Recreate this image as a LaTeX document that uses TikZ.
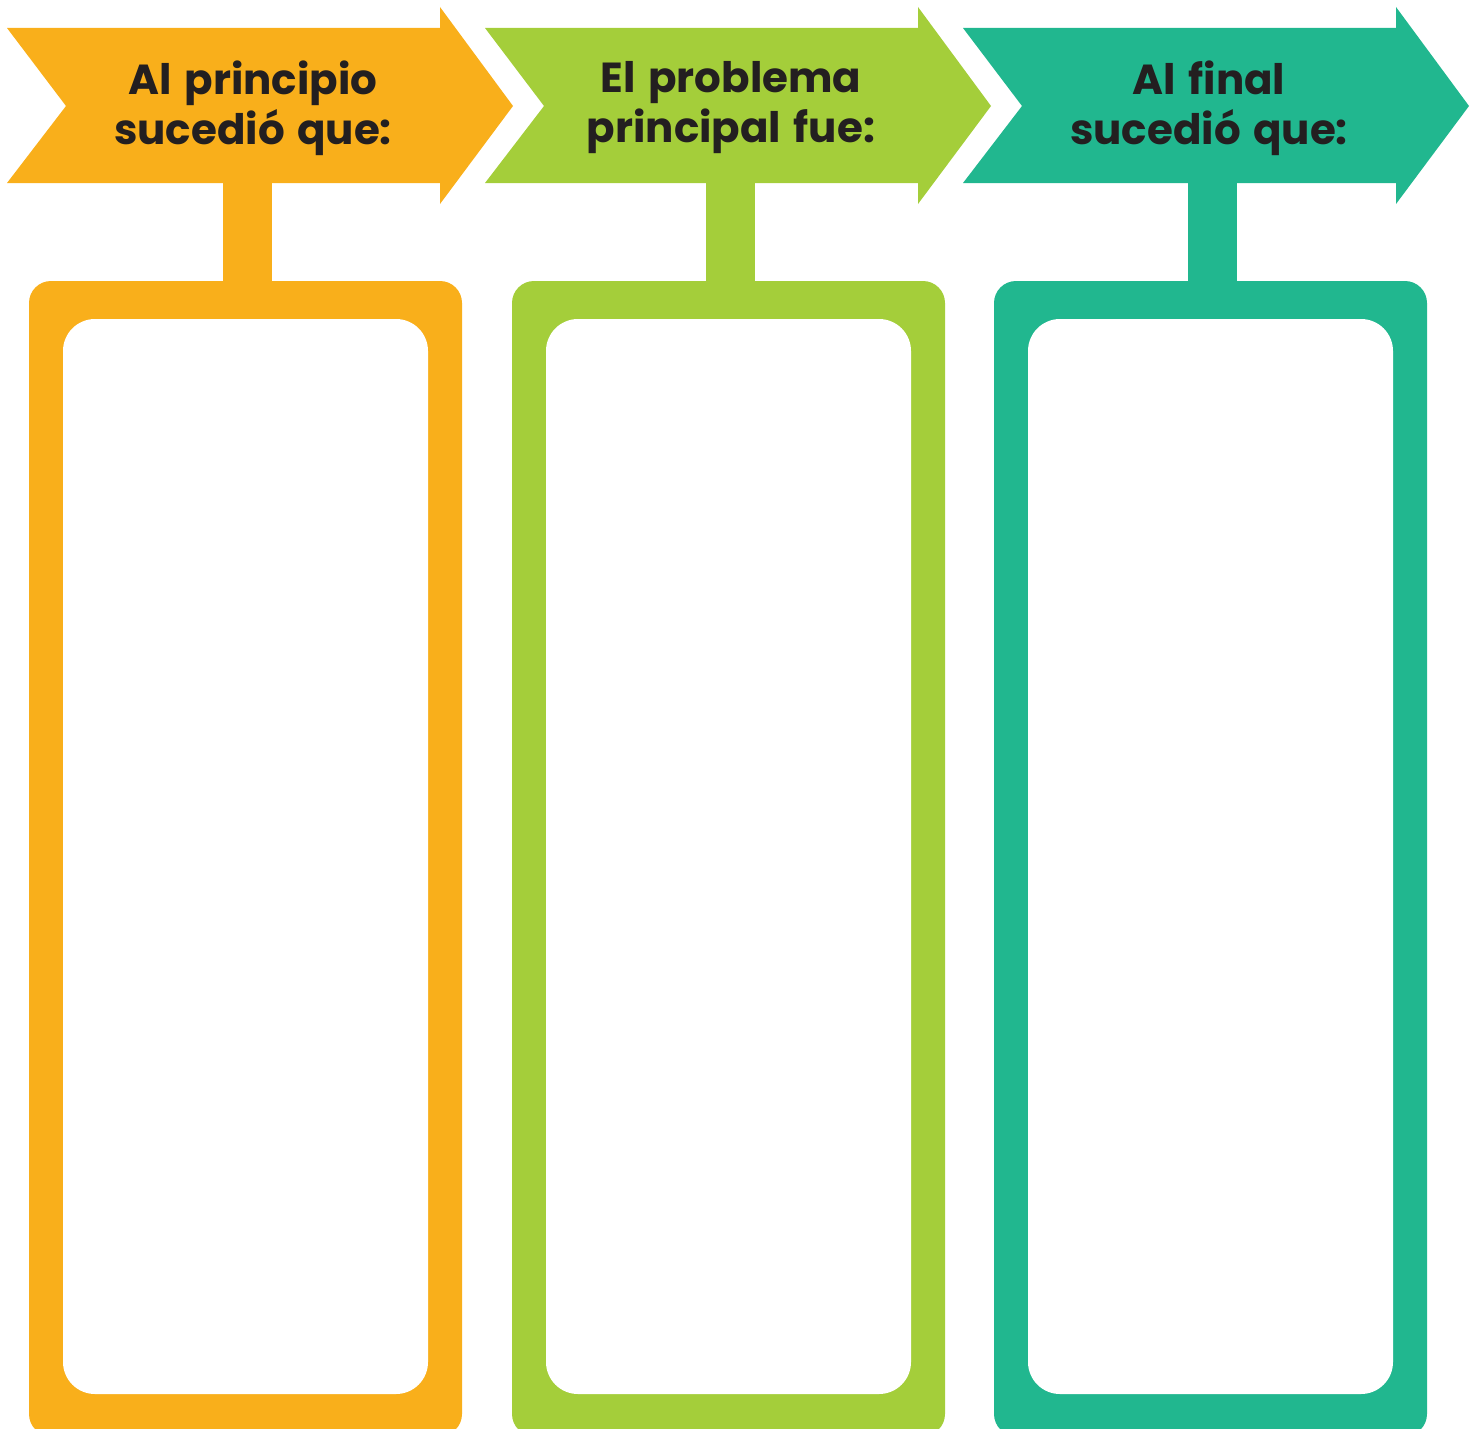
\documentclass[tikz,border=0pt]{standalone}
\usepackage{fontspec}
\setmainfont{Poppins}[WordSpace=1.4]
\definecolor{cOrange}{HTML}{F9AF1B}
\definecolor{cGreen}{HTML}{A4CE3A}
\definecolor{cTeal}{HTML}{21B78F}
\definecolor{cText}{HTML}{231F20}
\tikzset{
  bannertext/.style={text=cText, align=center, inner sep=0pt, font=\fontsize{42}{50}\selectfont\bfseries},
}
\newcommand{\bannerpanel}[6]{%
  % #1 arrow x offset, #2 box x offset, #3 colour, #4 name, #5 line 1, #6 line 2
  \fill[#3] (7+#1,28) -- (440+#1,28) -- (440+#1,7) -- (513+#1,106) -- (440+#1,204)
     -- (440+#1,183) -- (7+#1,183) -- (66+#1,106) -- cycle;
  \fill[#3] (223+#2,180) rectangle (272+#2,290);
  \fill[#3, rounded corners=22pt] (29+#2,281) rectangle (462+#2,1436);
  \fill[white, rounded corners=32pt] (63+#2,319) rectangle (428+#2,1394);
  \node[bannertext] (#4) at (253+#1,108) {#5\\#6};
}
\begin{document}
\begin{tikzpicture}[x=1pt,y=-1pt]
\useasboundingbox (0,0) rectangle (1480,1429);
\bannerpanel{0}{0}{cOrange}{inicio}{Al principio}{sucedió que:}
\bannerpanel{478}{483}{cGreen}{problema}{El problema}{principal fue:}
\bannerpanel{956}{965}{cTeal}{final}{Al final}{sucedió que:}
\end{tikzpicture}
\end{document}
